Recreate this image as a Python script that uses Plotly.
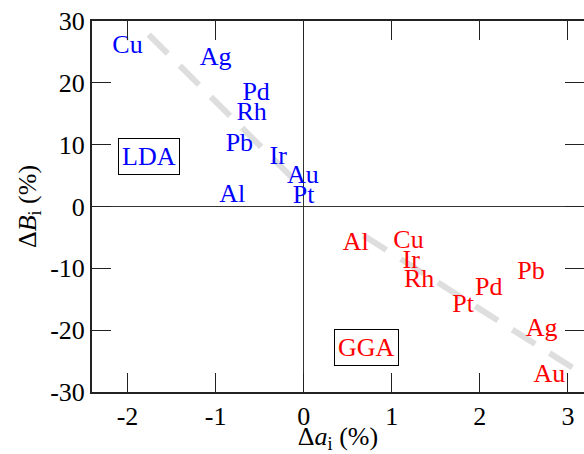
import plotly.graph_objects as go

# LDA labels (blue)
lda_names = ["Cu", "Ag", "Pd", "Rh", "Pb", "Ir", "Au", "Pt", "Al"]
lda_da = [-2.00, -1.00, -0.54, -0.59, -0.73, -0.29, -0.01, 0.00, -0.81]
lda_dB = [25.9, 23.9, 18.3, 15.0, 10.0, 7.9, 4.8, 1.6, 1.8]

# GGA labels (red)
gga_names = ["Al", "Cu", "Ir", "Rh", "Pt", "Pd", "Pb", "Ag", "Au"]
gga_da = [0.59, 1.19, 1.22, 1.31, 1.81, 2.10, 2.58, 2.70, 2.79]
gga_dB = [-6.0, -5.6, -8.9, -11.9, -16.0, -13.2, -10.7, -19.9, -27.3]

# guide (fit) lines
lda_fit_x = [-1.76, -0.10]
lda_fit_y = [27.8, 4.2]
gga_fit_x = [0.68, 3.30]
gga_fit_y = [-4.7, -28.3]

tick_vals_x = [-2, -1, 0, 1, 2, 3]
tick_text_x = ["-2", "-1", "0", "1", "2", "3"]
tick_vals_y = [-30, -20, -10, 0, 10, 20, 30]
tick_text_y = ["-30", "-20", "-10", "0", "10", "20", "30"]

FONT = "Liberation Serif"
FS = 26

fig = go.Figure()
fig.add_trace(go.Scatter(x=lda_fit_x, y=lda_fit_y, mode="lines",
                         line=dict(color="#dedede", width=6, dash="27px,17px"),
                         hoverinfo="skip", showlegend=False))
fig.add_trace(go.Scatter(x=gga_fit_x, y=gga_fit_y, mode="lines",
                         line=dict(color="#dedede", width=6, dash="27px,17px"),
                         hoverinfo="skip", showlegend=False))
fig.add_trace(go.Scatter(x=lda_da, y=lda_dB, mode="text", text=lda_names,
                         textposition="middle center",
                         textfont=dict(family=FONT, size=FS, color="#0000ff"),
                         showlegend=False, cliponaxis=False))
fig.add_trace(go.Scatter(x=gga_da, y=gga_dB, mode="text", text=gga_names,
                         textposition="middle center",
                         textfont=dict(family=FONT, size=FS, color="#ff0000"),
                         showlegend=False, cliponaxis=False))
# empty trace to host the right-hand tick axis
fig.add_trace(go.Scatter(x=[], y=[], yaxis="y2", showlegend=False))

fig.add_annotation(x=-1.757, y=8.1, xref="x", yref="y", text="LDA", showarrow=False,
                   font=dict(family=FONT, size=FS, color="#0000ff"),
                   bordercolor="black", borderwidth=1, borderpad=3, bgcolor="white")
fig.add_annotation(x=0.715, y=-22.8, xref="x", yref="y", text="GGA", showarrow=False,
                   font=dict(family=FONT, size=FS, color="#ff0000"),
                   bordercolor="black", borderwidth=1, borderpad=3, bgcolor="white")

fig.update_layout(
    width=584, height=454,
    margin=dict(l=92, r=0, t=21, b=62, pad=0),
    paper_bgcolor="white", plot_bgcolor="white",
    font=dict(family=FONT, size=FS, color="black"),
    xaxis=dict(range=[-2.403, 3.182], tickvals=tick_vals_x, ticktext=tick_text_x,
               ticks="inside", ticklen=19, tickwidth=1.3, tickcolor="#222",
               showline=True, linecolor="#222", linewidth=2, mirror="ticks",
               showgrid=False, zeroline=True, zerolinecolor="#333", zerolinewidth=1,
               tickfont=dict(family=FONT, size=FS),
               title=dict(text="Δ<i>a</i><sub>i</sub> (%)", font=dict(family=FONT, size=FS),
                          standoff=0)),
    yaxis=dict(range=[-30, 30], tickvals=tick_vals_y, ticktext=tick_text_y,
               ticks="inside", ticklen=19, tickwidth=1.3, tickcolor="#222",
               showline=True, linecolor="#222", linewidth=2, mirror=False,
               showgrid=False, zeroline=True, zerolinecolor="#333", zerolinewidth=1,
               tickfont=dict(family=FONT, size=FS),
               title=dict(text="Δ<i>B</i><sub>i</sub> (%)", font=dict(family=FONT, size=FS),
                          standoff=6)),
    yaxis2=dict(range=[-30, 30], tickvals=tick_vals_y, overlaying="y", side="right",
                ticks="inside", ticklen=19, tickwidth=1.3, tickcolor="#222",
                showline=False, showticklabels=False, showgrid=False, zeroline=False),
)

fig.write_html("out.html")
